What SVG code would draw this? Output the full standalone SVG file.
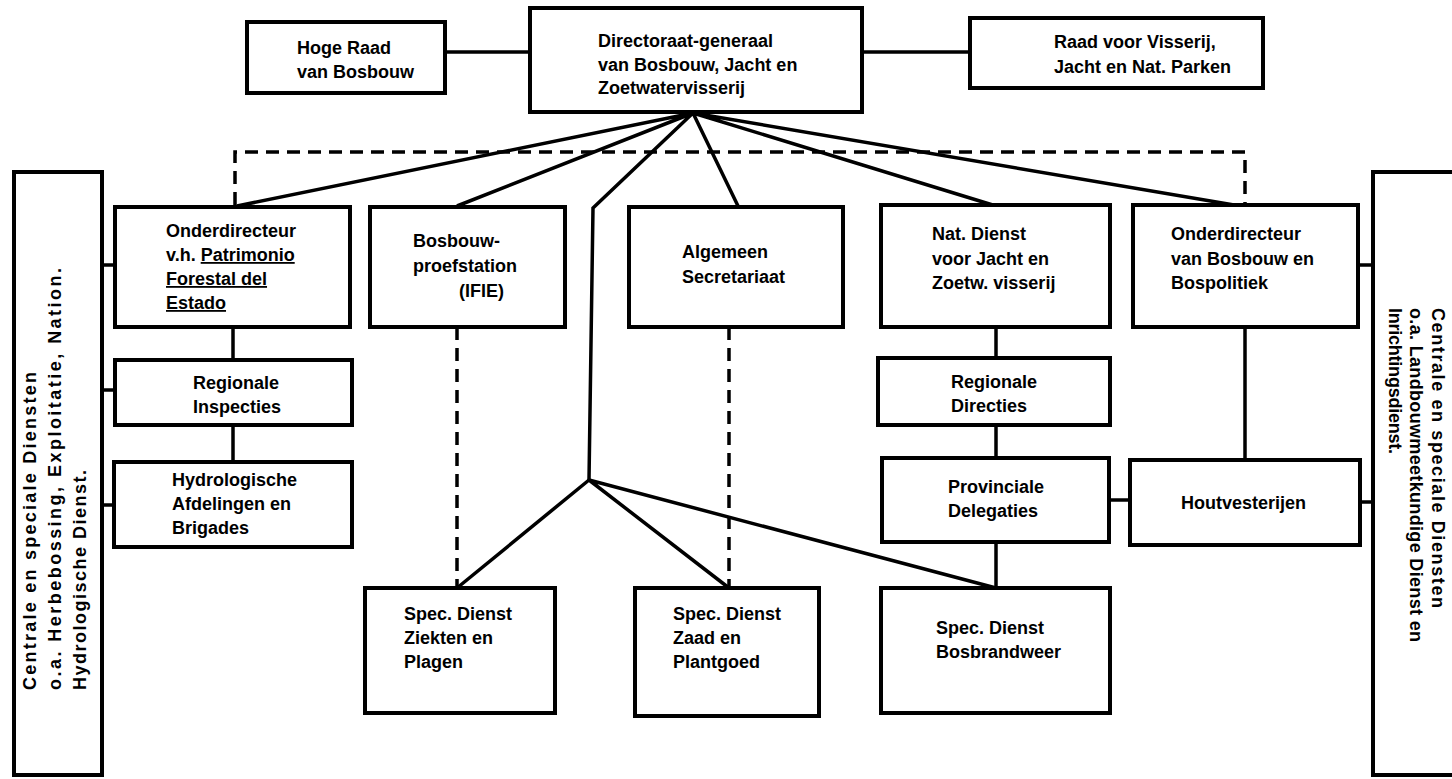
<svg xmlns="http://www.w3.org/2000/svg" width="1452" height="779" viewBox="0 0 1452 779">
<style>
.box{fill:#fff;stroke:#000;stroke-width:4}
.big{fill:#fff;stroke:#000;stroke-width:4}
.ln{fill:none;stroke:#000;stroke-width:3.5;stroke-linejoin:miter}
.dash{fill:none;stroke:#000;stroke-width:3.5;stroke-dasharray:13 8}
text{font-family:"Liberation Sans",Arial,sans-serif;font-size:18px;font-weight:bold;fill:#000}
.u{text-decoration:underline}
</style>
<rect width="1452" height="779" fill="#fff"/>
<g id="connectors">
<path class="dash" d="M235,205 V152 H1245 V205"/>
<path class="ln" d="M445,52 H530 M862,52 H970"/>
<path class="ln" d="M693,113 L237,206 M693,113 L457,206 M693,113 L593,208 L589,480 M693,113 L738,206 M693,113 L996,206 M693,113 L1240,206"/>
<path class="ln" d="M589,480 L457,588 M589,480 L729,588 M589,480 L996,588"/>
<path class="dash" d="M457,327 V588 M729,327 V588"/>
<path class="ln" d="M233,327 V360 M233,425 V462"/>
<path class="ln" d="M996,327 V358 M996,425 V458 M996,542 V588"/>
<path class="ln" d="M1245,327 V460 M1109,500 H1130"/>
<path class="ln" d="M102,265 H115 M102,390 H115 M102,505 H115"/>
<path class="ln" d="M1358,265 H1373 M1360,502 H1373"/>
</g>
<g id="left-services">
<rect class="big" x="14" y="172" width="88" height="603"/>
<text transform="translate(36,690) rotate(-90)" textLength="318" lengthAdjust="spacing">Centrale en speciale Diensten</text>
<text transform="translate(61,690) rotate(-90)" textLength="422" lengthAdjust="spacing">o.a. Herbebossing, Exploitatie, Nation.</text>
<text transform="translate(86,690) rotate(-90)" textLength="220" lengthAdjust="spacing">Hydrologische Dienst.</text>
</g>
<g id="right-services">
<rect class="big" x="1373" y="172" width="100" height="603"/>
<text transform="translate(1432,308) rotate(90)" textLength="300" lengthAdjust="spacing">Centrale en speciale Diensten</text>
<text transform="translate(1410,308) rotate(90)" textLength="334" lengthAdjust="spacing">o.a. Landbouwmeetkundige Dienst en</text>
<text transform="translate(1389,308) rotate(90)" textLength="146" lengthAdjust="spacing">Inrichtingsdienst.</text>
</g>
<g id="hoge-raad">
<rect class="box" x="247" y="22" width="198" height="71"/>
<text x="297" y="54">Hoge Raad</text>
<text x="297" y="78">van Bosbouw</text>
</g>
<g id="directoraat">
<rect class="box" x="530" y="8" width="332" height="104"/>
<text x="598" y="47">Directoraat-generaal</text>
<text x="598" y="71">van Bosbouw, Jacht en</text>
<text x="598" y="94">Zoetwatervisserij</text>
</g>
<g id="raad-visserij">
<rect class="box" x="970" y="18" width="293" height="70"/>
<text x="1054" y="48">Raad voor Visserij,</text>
<text x="1054" y="73">Jacht en Nat. Parken</text>
</g>
<g id="onderdirecteur-patrimonio">
<rect class="box" x="115" y="207" width="235" height="120"/>
<text x="166" y="237">Onderdirecteur</text>
<text x="166" y="261">v.h. <tspan class="u">Patrimonio</tspan></text>
<text x="166" y="285" class="u">Forestal del</text>
<text x="166" y="309" class="u">Estado</text>
</g>
<g id="proefstation">
<rect class="box" x="370" y="207" width="195" height="120"/>
<text x="413" y="247">Bosbouw-</text>
<text x="413" y="272">proefstation</text>
<text x="459" y="297">(IFIE)</text>
</g>
<g id="secretariaat">
<rect class="box" x="629" y="207" width="214" height="120"/>
<text x="682" y="258">Algemeen</text>
<text x="682" y="283">Secretariaat</text>
</g>
<g id="nat-dienst">
<rect class="box" x="881" y="205" width="229" height="122"/>
<text x="932" y="240">Nat. Dienst</text>
<text x="932" y="265">voor Jacht en</text>
<text x="932" y="289">Zoetw. visserij</text>
</g>
<g id="onderdirecteur-bosbouw">
<rect class="box" x="1133" y="205" width="225" height="122"/>
<text x="1171" y="240">Onderdirecteur</text>
<text x="1171" y="265">van Bosbouw en</text>
<text x="1171" y="289">Bospolitiek</text>
</g>
<g id="regionale-inspecties">
<rect class="box" x="115" y="360" width="237" height="65"/>
<text x="193" y="389">Regionale</text>
<text x="193" y="413">Inspecties</text>
</g>
<g id="regionale-directies">
<rect class="box" x="878" y="358" width="232" height="67"/>
<text x="951" y="388">Regionale</text>
<text x="951" y="412">Directies</text>
</g>
<g id="hydrologische">
<rect class="box" x="114" y="462" width="238" height="85"/>
<text x="172" y="486">Hydrologische</text>
<text x="172" y="510">Afdelingen en</text>
<text x="172" y="534">Brigades</text>
</g>
<g id="provinciale">
<rect class="box" x="882" y="458" width="227" height="84"/>
<text x="948" y="493">Provinciale</text>
<text x="948" y="517">Delegaties</text>
</g>
<g id="houtvesterijen">
<rect class="box" x="1130" y="460" width="230" height="85"/>
<text x="1181" y="509">Houtvesterijen</text>
</g>
<g id="ziekten">
<rect class="box" x="365" y="588" width="190" height="125"/>
<text x="404" y="620">Spec. Dienst</text>
<text x="404" y="644">Ziekten en</text>
<text x="404" y="668">Plagen</text>
</g>
<g id="zaad">
<rect class="box" x="635" y="588" width="184" height="128"/>
<text x="673" y="620">Spec. Dienst</text>
<text x="673" y="644">Zaad en</text>
<text x="673" y="668">Plantgoed</text>
</g>
<g id="bosbrandweer">
<rect class="box" x="881" y="588" width="229" height="125"/>
<text x="936" y="634">Spec. Dienst</text>
<text x="936" y="658">Bosbrandweer</text>
</g>
</svg>
